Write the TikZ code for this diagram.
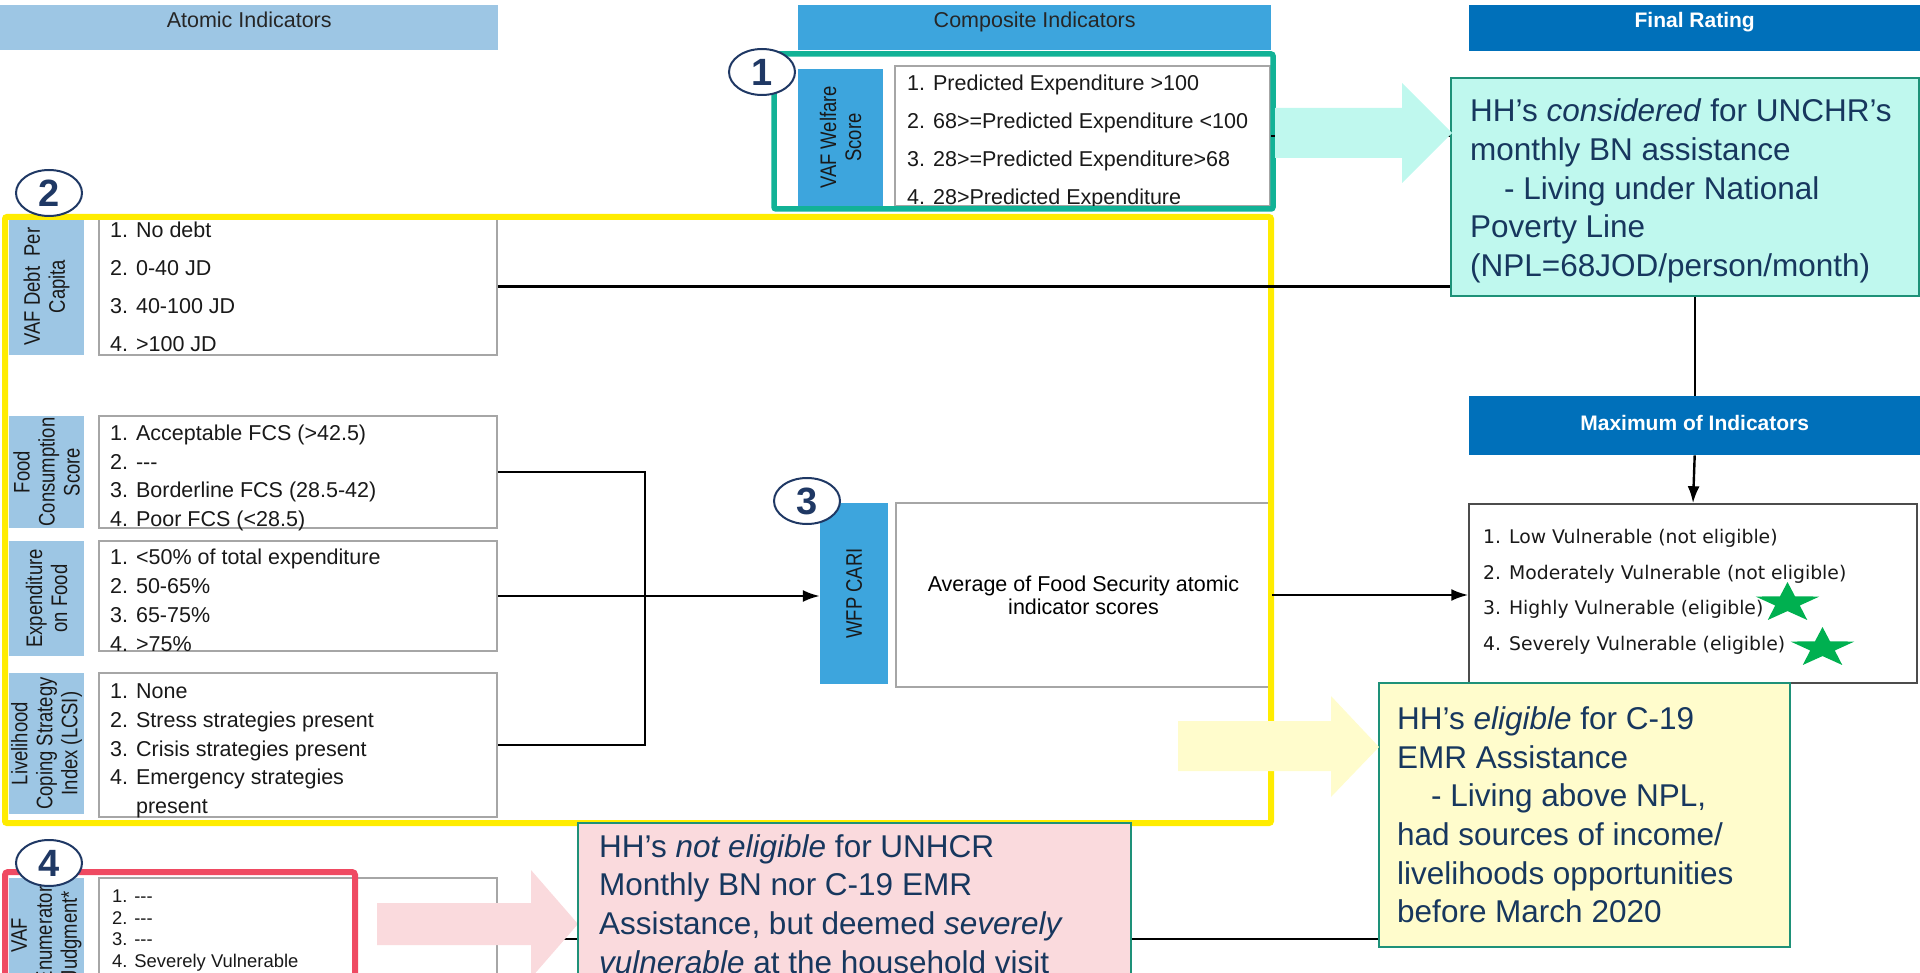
\documentclass[tikz,border=0pt]{standalone}
\usepackage{fontspec}
\setmainfont{Liberation Sans}
\newfontfamily\narrowfont[FakeStretch=0.82]{Liberation Sans}
\newfontfamily\ratingfont{DejaVu Sans}
\usetikzlibrary{calc,arrows.meta,positioning,shapes.geometric}

\definecolor{atomblue}{RGB}{157,198,228}
\definecolor{compblue}{RGB}{61,165,221}
\definecolor{finalblue}{RGB}{0,112,186}
\definecolor{navy}{RGB}{31,56,100}
\definecolor{boxtext}{RGB}{23,55,94}
\definecolor{frameyellow}{RGB}{255,236,0}
\definecolor{framegreen}{RGB}{18,178,150}
\definecolor{framered}{RGB}{239,74,98}
\definecolor{cyanfill}{RGB}{191,248,238}
\definecolor{yellowfill}{RGB}{255,252,204}
\definecolor{pinkfill}{RGB}{250,218,221}
\definecolor{boxedge}{RGB}{30,145,120}
\definecolor{stargreen}{RGB}{0,176,80}

\tikzset{
  hdr/.style={anchor=north west, inner xsep=0pt, inner ysep=0pt, text=black!85,
    font=\fontsize{21.5}{24}\selectfont},
  lbl/.style={rotate=90, inner sep=0pt, align=center, text=black!90,
    font=\narrowfont\fontsize{22.5}{25}\selectfont},
  lst/.style={draw=black!35, line width=1.5pt, fill=white, inner sep=0pt},
  item/.style={anchor=base west, inner sep=0pt, text=black!90,
    font=\fontsize{21.5}{24}\selectfont},
  infobox/.style={draw=boxedge, line width=2pt, inner sep=0pt},
  infotext/.style={anchor=west, align=left, inner sep=0pt, text=boxtext,
    font=\fontsize{31.5}{38.6}\selectfont},
  num/.style={ellipse, draw=navy, line width=2pt, fill=white, minimum width=66pt,
    minimum height=46pt, inner sep=0pt, text=navy, font=\fontsize{38}{40}\selectfont\bfseries},
  link/.style={line width=2.4pt},
  tip/.style={-{Latex[length=17pt,width=12pt]}},
  bigstar/.style={star, star points=5, star point ratio=2.6, fill=stargreen,
    minimum size=42pt, inner sep=0pt, xscale=1.6}
}

\begin{document}
\begin{tikzpicture}[x=1pt, y=-1pt]
    \useasboundingbox (0,0) rectangle (1920,973);

    \node[hdr, fill=atomblue, minimum width=498pt, text height=22pt, text depth=23pt] (hdrAtomic) at (0,5) {Atomic Indicators};
    \node[hdr, fill=compblue, minimum width=473pt, text height=22pt, text depth=23pt] (hdrComposite) at (798,5) {Composite Indicators};
    \node[hdr, fill=finalblue, minimum width=451pt, text height=22pt, text depth=24pt, text=white,
        font=\fontsize{21}{24}\selectfont\bfseries] (hdrFinal) at (1469,5) {Final Rating};

    \node[lst, minimum width=375pt, minimum height=140pt] (lstWelfare) at (1082.5,136) {};
    \foreach[count=\i] \t in {1. Predicted Expenditure >100, 2. 68>=Predicted Expenditure <100,
        3. 28>=Predicted Expenditure>68, 4. 28>Predicted Expenditure} {
        \node[item] (welf\i) at (907,{90.5+38*(\i-1)}) {\t};
    }
    \node[lst, minimum width=398pt, minimum height=137pt] (lstDebt) at (298,286.5) {};
    \foreach[count=\i] \t in {1. No debt, 2. 0-40 JD, 3. 40-100 JD, 4. >100 JD} {
        \node[item] (debt\i) at (110,{237.5+38*(\i-1)}) {\t};
    }
    \node[lst, minimum width=398pt, minimum height=112pt] (lstFcs) at (298,472) {};
    \foreach[count=\i] \t in {1. Acceptable FCS (>42.5), 2. {-}{-}{-}, 3. Borderline FCS (28.5-42), 4. Poor FCS (<28.5)} {
        \node[item] (fcs\i) at (110,{440.5+28.7*(\i-1)}) {\t};
    }
    \node[lst, minimum width=398pt, minimum height=110pt] (lstExp) at (298,596) {};
    \foreach[count=\i] \t in {1. <50\% of total expenditure, 2. 50-65\%, 3. 65-75\%, 4. >75\%} {
        \node[item] (exp\i) at (110,{564.5+29*(\i-1)}) {\t};
    }
    \node[lst, minimum width=398pt, minimum height=144pt] (lstLcsi) at (298,745) {};
    \foreach[count=\i] \t in {1. None, 2. Stress strategies present, 3. Crisis strategies present,
        4. Emergency strategies, \phantom{4. }present} {
        \node[item] (lcsi\i) at (110,{698.5+28.75*(\i-1)}) {\t};
    }
    \node[lst, minimum width=398pt, minimum height=122pt] (lstEnum) at (298,939) {};
    \foreach[count=\i] \t in {1. {-}{-}{-}, 2. {-}{-}{-}, 3. {-}{-}{-}, 4. Severely Vulnerable} {
        \node[item, font=\fontsize{18.4}{20}\selectfont] (enum\i) at (112,{902.5+21.7*(\i-1)}) {\t};
    }

    \node[lbl, fill=compblue, minimum width=137pt, minimum height=85pt] (lblWelfare) at (840.5,137.5) {VAF Welfare\\Score};
    \node[lbl, fill=atomblue, minimum width=137pt, minimum height=75pt] (lblDebt) at (46.5,286.5) {VAF Debt\ \ Per\\Capita};
    \node[lbl, fill=atomblue, minimum width=112pt, minimum height=75pt] (lblFcs) at (46.5,472) {Food\\Consumption\\Score};
    \node[lbl, fill=atomblue, minimum width=115pt, minimum height=75pt] (lblExp) at (46.5,598.5) {Expenditure\\on Food};
    \node[lbl, fill=atomblue, minimum width=141pt, minimum height=75pt] (lblLcsi) at (46.5,743.5) {Livelihood\\Coping Strategy\\Index (LCSI)};
    \node[lbl, fill=atomblue, minimum width=114pt, minimum height=75pt] (lblEnum) at (46.5,935) {VAF\\Enumerator\\Judgment*};
    \node[lbl, fill=compblue, minimum width=181pt, minimum height=68pt] (lblCari) at (854,593.5) {WFP CARI};

    \node[lst, minimum width=375pt, minimum height=184pt, align=center,
        font=\fontsize{21.5}{23}\selectfont] (avgBox) at (1083.5,595) {Average of Food Security atomic\\indicator scores};

    \node[hdr, fill=finalblue, minimum width=451pt, text height=34pt, text depth=25pt, text=white,
        font=\fontsize{21}{24}\selectfont\bfseries] (hdrMax) at (1469,396) {Maximum of Indicators};
    \node[lst, draw=black!70, minimum width=448pt, minimum height=179pt] (rating) at (1693,593.5) {};
    \foreach[count=\i] \t in {1. Low Vulnerable (not eligible), 2. Moderately Vulnerable (not eligible),
        3. Highly Vulnerable (eligible), 4. Severely Vulnerable (eligible)} {
        \node[item, font=\ratingfont\fontsize{18.8}{22}\selectfont] (rate\i) at (1483,{543.5+35.7*(\i-1)}) {\t};
    }

    \node[infobox, fill=cyanfill, minimum width=468pt, minimum height=218pt] (cyanBox) at (1685,187) {};
    \node[infotext] (cyanText) at ([xshift=20pt,yshift=-4pt]cyanBox.west)
        {HH’s \textit{considered} for UNCHR’s\\monthly BN assistance\\\hspace*{34pt}- Living under National\\Poverty Line\\(NPL=68JOD/person/month)};
    \node[infobox, fill=yellowfill, minimum width=411pt, minimum height=264pt] (yelBox) at (1584.5,815) {};

    \draw[framegreen, line width=5.5pt, rounded corners=2pt] (774,54) rectangle (1273,209);
    \draw[frameyellow, line width=6pt, rounded corners=2pt] (5,217) rectangle (1271,823);
    \draw[framered, line width=6pt, rounded corners=3pt] (5,872) rectangle (355,1010);

    \draw[link] (lstWelfare.east) -- (lstWelfare.east -| cyanBox.west);
    \draw[link] (lstDebt.east) -- (lstDebt.east -| cyanBox.west);
    \draw[link] (hdrMax.north |- cyanBox.south) -- (hdrMax.north);
    \draw[link,tip] (hdrMax.south) -- (rating.north);
    \coordinate (fork) at (645,596);
    \draw[link] (lstFcs.east) -| (fork) |- (lstLcsi.east);
    \draw[link,tip] (lstExp.east) -- (lstExp.east -| lblCari.north);
    \draw[link,tip] (avgBox.east) -- (avgBox.east -| rating.west);

    \fill[cyanfill] (1275,108) -- (1402,108) -- (1402,83) -- (1452,133) -- (1402,183) -- (1402,158) -- (1275,158) -- cycle;
    \fill[yellowfill] (1178,721) -- (1331,721) -- (1331,696) -- (1379,747) -- (1331,797) -- (1331,771) -- (1178,771) -- cycle;
    \node[infotext] (yelText) at ([xshift=19pt]yelBox.west)
        {HH’s \textit{eligible} for C-19\\EMR Assistance\\\hspace*{34pt}- Living above NPL,\\had sources of income/\\livelihoods opportunities\\before March 2020};

    \draw[link] (lstEnum.east) -- (lstEnum.east -| yelBox.west);
    \fill[pinkfill] (377,903) -- (531,903) -- (531,870) -- (578,924) -- (531,978) -- (531,945) -- (377,945) -- cycle;
    \node[infobox, fill=pinkfill, minimum width=553pt, minimum height=162pt] (pinkBox) at (854.5,904) {};
    \node[infotext] (pinkText) at ([xshift=22pt]pinkBox.west)
        {HH’s \textit{not eligible} for UNHCR\\Monthly BN nor C-19 EMR\\Assistance, but deemed \textit{severely}\\\textit{vulnerable} at the household visit};

    \node[bigstar] (star1) at (1787.5,603) {};
    \node[bigstar] (star2) at (1822.5,648) {};

    \node[num] (num1) at (762,72) {1};
    \node[num] (num2) at (49,193) {2};
    \node[num] (num3) at (807,501) {3};
    \node[num] (num4) at (49,863) {4};
\end{tikzpicture}
\end{document}
